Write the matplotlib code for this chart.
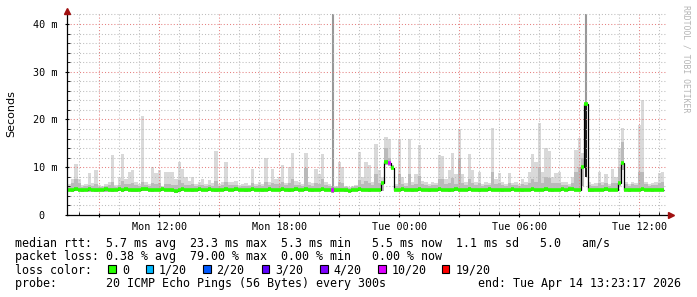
import numpy as np
import matplotlib
matplotlib.use("Agg")
import matplotlib.pyplot as plt
import matplotlib.dates as mdates
import matplotlib.ticker as mticker
from matplotlib.patches import Rectangle
from matplotlib.transforms import ScaledTranslation
from datetime import datetime, timedelta

# 10 minute bins, values in ms
bin_start = datetime(2026, 4, 13, 7, 25)
bin_minutes = 10
view_start = datetime(2026, 4, 13, 7, 23, 17)
view_end = datetime(2026, 4, 14, 13, 23, 17)

median_rtt = [
    5.2, 5.3, 5.4, 5.3, 5.2, 5.3, 5.4, 5.3, 5.2, 5.3,
    5.3, 5.4, 5.3, 5.2, 5.3, 5.5, 5.3, 5.4, 5.3, 5.3,
    5.2, 5.3, 5.4, 5.4, 5.3, 5.2, 5.3, 5.3, 5.4, 5.3,
    5.3, 5.2, 5.1, 5.3, 5.4, 5.3, 5.3, 5.2, 5.3, 5.4,
    5.3, 5.3, 5.4, 5.3, 5.2, 5.3, 5.3, 5.4, 5.3, 5.3,
    5.4, 5.3, 5.3, 5.2, 5.3, 5.4, 5.3, 5.3, 5.2, 5.3,
    5.4, 5.3, 5.3, 5.3, 5.4, 5.3, 5.2, 5.3, 5.4, 5.3,
    5.3, 5.4, 5.3, 5.2, 5.3, 5.3, 5.4, 5.3, 5.3, 5.3,
    5.2, 5.3, 5.3, 5.2, 5.1, 5.3, 5.3, 5.4, 5.3, 5.3,
    5.2, 5.3, 5.3, 5.3, 6.6, 11.0, 10.8, 9.8, 5.3, 5.3,
    5.4, 5.3, 5.3, 5.2, 5.3, 5.4, 5.3, 5.3, 5.2, 5.3,
    5.3, 5.4, 5.3, 5.3, 5.2, 5.3, 5.4, 5.3, 5.3, 5.3,
    5.4, 5.3, 5.3, 5.2, 5.3, 5.3, 5.4, 5.3, 5.3, 5.3,
    5.2, 5.3, 5.3, 5.4, 5.3, 5.3, 5.2, 5.3, 5.3, 5.4,
    5.3, 5.3, 5.3, 5.4, 5.3, 5.2, 5.3, 5.3, 5.4, 5.3,
    5.4, 5.4, 5.3, 5.3, 10.1, 23.3, 5.3, 5.2, 5.3, 5.3,
    5.3, 5.4, 5.3, 5.3, 5.3, 6.8, 10.8, 5.3, 5.2, 5.3,
    5.3, 5.3, 5.4, 5.3, 5.3, 5.2, 5.3, 5.3, 5.3, np.nan,
]

smoke_lo = [
    5.0, 4.9, 5.0, 5.0, 4.9, 5.0, 4.8, 5.0, 4.9, 5.0,
    5.0, 4.9, 5.0, 4.9, 5.0, 5.0, 4.9, 5.0, 5.0, 4.9,
    4.9, 5.0, 5.0, 5.1, 5.0, 4.9, 5.0, 5.0, 5.1, 5.0,
    5.0, 4.9, 4.7, 4.9, 5.0, 5.0, 5.0, 4.9, 5.0, 5.0,
    5.0, 5.0, 5.1, 5.0, 4.9, 5.0, 5.0, 5.0, 5.0, 5.0,
    5.0, 5.0, 5.0, 4.9, 5.0, 5.0, 5.0, 5.0, 4.9, 5.0,
    5.0, 5.0, 5.0, 5.0, 5.0, 5.0, 4.9, 5.0, 5.0, 5.0,
    5.0, 5.0, 5.0, 4.9, 5.0, 5.0, 5.0, 5.0, 5.0, 4.6,
    4.9, 5.0, 5.0, 4.9, 4.8, 5.0, 5.0, 5.0, 5.0, 5.0,
    4.9, 5.0, 5.0, 5.0, 5.0, 10.5, 10.3, 9.6, 5.0, 5.0,
    5.0, 5.0, 5.0, 4.9, 5.0, 5.0, 5.0, 5.0, 4.9, 5.0,
    5.0, 5.0, 5.0, 5.0, 4.9, 5.0, 5.0, 5.0, 5.0, 5.0,
    5.0, 5.0, 5.0, 4.9, 5.0, 5.0, 5.0, 5.0, 5.0, 5.0,
    4.9, 5.0, 5.0, 5.0, 5.0, 5.0, 4.9, 5.0, 5.0, 5.0,
    5.0, 5.0, 5.0, 5.0, 5.0, 4.9, 5.0, 5.0, 5.0, 5.0,
    5.0, 5.0, 5.0, 5.0, 6.0, 8.0, 4.8, 4.9, 5.0, 5.0,
    5.0, 5.0, 5.0, 5.0, 5.0, 6.0, 9.5, 5.0, 4.9, 5.0,
    5.0, 5.0, 5.0, 5.0, 5.0, 4.9, 5.0, 5.0, 5.0, np.nan,
]

smoke_mid = [
    6.0, 6.6, 7.5, 6.8, 5.9, 6.0, 6.3, 6.0, 6.4, 5.9,
    5.8, 6.0, 6.2, 7.0, 5.9, 6.3, 7.2, 6.4, 6.5, 6.8,
    6.2, 6.0, 7.0, 6.2, 6.0, 6.8, 6.4, 6.6, 5.8, 6.4,
    6.5, 6.3, 6.2, 7.4, 6.8, 6.3, 6.2, 6.4, 6.0, 6.2,
    6.3, 6.0, 6.2, 6.1, 7.2, 6.0, 6.3, 7.0, 6.2, 6.2,
    6.2, 5.9, 6.0, 6.1, 6.0, 6.6, 6.0, 6.3, 6.0, 7.0,
    6.2, 6.8, 6.5, 6.4, 7.0, 6.2, 6.8, 7.5, 6.3, 6.2,
    6.0, 9.8, 6.3, 6.0, 6.6, 6.4, 7.6, 6.2, 6.0, 6.0,
    5.8, 7.0, 6.8, 5.8, 5.6, 5.8, 6.0, 7.4, 6.4, 7.2,
    6.8, 6.2, 8.5, 6.8, 6.8, 14.0, 12.0, 10.5, 6.0, 8.5,
    6.4, 6.0, 8.6, 6.2, 6.5, 8.2, 6.4, 6.2, 6.0, 6.2,
    6.2, 7.5, 7.6, 6.4, 6.8, 7.8, 6.5, 12.0, 6.6, 6.2,
    7.5, 6.8, 6.2, 6.6, 6.0, 6.2, 6.2, 9.0, 6.4, 6.6,
    6.2, 6.0, 6.6, 6.2, 6.3, 6.0, 6.4, 6.2, 6.8, 7.6,
    7.0, 10.0, 6.8, 8.0, 7.8, 6.6, 6.8, 6.8, 6.2, 6.2,
    6.0, 6.8, 9.0, 10.0, 12.0, 8.0, 6.2, 6.0, 6.0, 6.6,
    6.2, 6.6, 6.0, 6.8, 6.6, 10.0, 15.3, 6.4, 6.0, 6.4,
    6.2, 9.0, 9.0, 6.4, 6.0, 6.2, 6.3, 6.8, 7.0, np.nan,
]

smoke_hi = [
    6.5, 7.5, 10.7, 7.6, 6.2, 6.4, 8.8, 6.8, 9.4, 6.2,
    6.0, 6.4, 7.0, 12.6, 6.3, 7.8, 12.8, 7.6, 9.0, 9.5,
    7.0, 6.5, 20.7, 7.0, 6.4, 10.0, 8.8, 9.5, 6.0, 9.0,
    9.0, 9.0, 7.5, 11.1, 9.7, 7.9, 7.2, 8.0, 6.4, 7.0,
    7.6, 6.5, 7.4, 6.8, 13.4, 6.5, 7.0, 11.1, 7.0, 7.0,
    7.2, 6.2, 6.4, 6.7, 6.3, 9.6, 6.5, 7.0, 6.4, 11.9,
    7.0, 9.6, 7.5, 8.0, 10.5, 6.8, 10.0, 13.0, 7.2, 7.0,
    6.5, 13.0, 7.0, 6.6, 9.6, 8.6, 12.8, 7.0, 6.5, 42.0,
    6.0, 11.0, 10.0, 6.0, 5.8, 6.0, 6.2, 13.1, 8.0, 11.0,
    10.5, 7.0, 14.9, 9.5, 8.0, 16.3, 16.0, 10.0, 6.5, 15.9,
    8.0, 6.8, 15.9, 7.0, 8.5, 14.6, 7.2, 7.0, 6.5, 7.0,
    6.8, 12.5, 12.4, 7.5, 9.5, 13.0, 8.5, 18.0, 8.6, 7.0,
    12.8, 9.5, 7.0, 9.0, 6.5, 7.0, 6.8, 18.2, 7.5, 8.7,
    7.0, 6.5, 8.7, 6.8, 7.0, 6.5, 7.5, 7.0, 9.0, 12.8,
    11.0, 19.3, 9.0, 14.0, 13.4, 8.0, 8.7, 9.0, 7.0, 7.0,
    6.5, 8.0, 13.6, 16.1, 13.0, 42.0, 7.0, 6.5, 6.8, 9.0,
    7.0, 8.5, 6.5, 9.6, 8.0, 14.0, 18.2, 7.0, 6.5, 7.0,
    6.8, 18.8, 24.1, 7.0, 6.5, 6.8, 7.0, 8.7, 9.0, np.nan,
]

# darkest smoke (nearly black) on the big Tuesday spike
dark_bins = [155]
dark_lo = [8.0]
dark_hi = [23.3]

# bins with packet loss, lost pings out of 20
loss_bins = [79, 96]
loss_pings = [10, 10]

loss_levels = [0, 1, 2, 3, 4, 10, 19]
loss_labels = ["0", "1/20", "2/20", "3/20", "4/20", "10/20", "19/20"]
loss_colors = ["#26ff00", "#00b8ff", "#0059ff", "#5e00ff", "#7e00ff", "#dd00ff", "#ff0000"]

legend_lines = [
    "median rtt:  5.7 ms avg  23.3 ms max  5.3 ms min   5.5 ms now  1.1 ms sd   5.0   am/s",
    "packet loss: 0.38 % avg  79.00 % max  0.00 % min   0.00 % now",
    "loss color:",
    "probe:       20 ICMP Echo Pings (56 Bytes) every 300s",
]
end_text = "end: Tue Apr 14 13:23:17 2026"

plt.rcParams['font.family'] = ['DejaVu Sans Mono']

W, H = 697, 297
fig = plt.figure(figsize=(W / 100, H / 100), dpi=100)
ax = fig.add_axes([67 / W, 82 / H, 600 / W, 201.7 / H])

n = len(median_rtt)
edges = mdates.date2num([bin_start + timedelta(minutes=bin_minutes * i) for i in range(n + 1)])
left = edges[:-1]
width = edges[1] - edges[0]
centers = left + width / 2

lo = np.array(smoke_lo)
mid = np.array(smoke_mid)
hi = np.array(smoke_hi)
med = np.array(median_rtt)
ok = ~np.isnan(med)
tall = np.nan_to_num(hi) > 30
normal = ok & ~tall

# smoke
ax.bar(left[normal], hi[normal] - lo[normal], width=width, bottom=lo[normal],
       align='edge', color='#d9d9d9', linewidth=0, zorder=1)
ax.bar(left[ok], mid[ok] - lo[ok], width=width, bottom=lo[ok],
       align='edge', color='#bababa', linewidth=0, zorder=1.2)
ax.vlines(centers[tall], lo[tall], hi[tall], color='#999999', lw=1.5, zorder=1.3)
for b, a, c in zip(dark_bins, dark_lo, dark_hi):
    ax.bar(left[b] + width * 0.1, c - a, width=width * 0.8, bottom=a,
           align='edge', color='#1e1e1e', linewidth=0, zorder=1.4)

# median line coloured by loss
pings = np.zeros(n, dtype=int)
pings[loss_bins] = loss_pings
seg_colors = []
for p in pings:
    k = max(i for i, lv in enumerate(loss_levels) if lv <= p)
    seg_colors.append(loss_colors[k])
last = np.where(ok)[0][-1]
ax.stairs(med[:last + 1], edges[:last + 2], baseline=None, color='black', lw=0.9, zorder=3)
ax.hlines(med[ok], left[ok], edges[1:][ok], colors=[c for c, o in zip(seg_colors, ok) if o],
          lw=2.6, zorder=4)

# axes
ax.set_xlim(mdates.date2num(view_start), mdates.date2num(view_end))
ax.set_ylim(0, 42.24)
ax.xaxis.set_major_locator(mdates.HourLocator(byhour=range(0, 24, 3)))
ax.xaxis.set_minor_locator(mdates.HourLocator())


def xfmt(v, pos):
    d = mdates.num2date(v)
    return d.strftime('%a %H:%M') if d.hour % 6 == 0 else ''


ax.xaxis.set_major_formatter(mticker.FuncFormatter(xfmt))
ax.yaxis.set_major_locator(mticker.MultipleLocator(10))
ax.yaxis.set_minor_locator(mticker.MultipleLocator(2))
ax.yaxis.set_major_formatter(mticker.FuncFormatter(lambda v, p: '0' if v == 0 else f'{v:.0f} m'))

ax.set_axisbelow(False)
ax.grid(which='minor', color='#bdbdbd', linestyle=(0, (1, 2)), lw=0.75, zorder=2.5)
ax.grid(which='major', color='#e58080', linestyle=(0, (1, 2)), lw=0.75, zorder=2.6)

for s in ['top', 'right']:
    ax.spines[s].set_visible(False)
for s in ['left', 'bottom']:
    ax.spines[s].set_linewidth(0.9)
    ax.spines[s].set_zorder(5)
ax.tick_params(which='major', direction='inout', length=3, width=0.8, labelsize=7.3, pad=3.5)
ax.tick_params(which='minor', direction='in', length=2, width=0.6)
ax.tick_params(axis='y', which='major', pad=5)

fig.canvas.draw()
for lab in ax.get_yticklabels():
    if lab.get_text() == '0':
        lab.set_transform(lab.get_transform() + ScaledTranslation(-13 / 100, 0, fig.dpi_scale_trans))

# axis arrows
ax.plot([0], [1.012], marker='^', ms=4.5, color='#a01010', mec='#a01010',
        transform=ax.transAxes, clip_on=False, zorder=6)
ax.plot([1.006], [0], marker='>', ms=4.5, color='#a01010', mec='#a01010',
        transform=ax.transAxes, clip_on=False, zorder=6)

fig.text(11 / W, 1 - 114 / H, 'Seconds', rotation=90, ha='center', va='center',
         fontsize=8, family='DejaVu Sans')
fig.text(686 / W, 1 - 5 / H, 'RRDTOOL / TOBI OETIKER', rotation=270, ha='center', va='top',
         fontsize=5.9, color='#b4b4b4')

# legend block
baselines = [246.5, 260.0, 273.7, 287.5]
for txt, yb in zip(legend_lines, baselines):
    fig.text(15.4 / W, 1 - yb / H, txt, ha='left', va='baseline', fontsize=8.35)
fig.text(681 / W, 1 - baselines[3] / H, end_text, ha='right', va='baseline', fontsize=8.35)

box_x = [108.3, 145.7, 203.3, 261.7, 320.0, 378.3, 441.7]
lab_x = [122.5, 159.0, 216.5, 275.0, 333.5, 392.0, 456.0]
for bx, tx, lab, col in zip(box_x, lab_x, loss_labels, loss_colors):
    fig.add_artist(Rectangle((bx / W, 1 - 273.2 / H), 7.5 / W, 8.2 / H, transform=fig.transFigure,
                             facecolor=col, edgecolor='black', lw=0.8))
    fig.text(tx / W, 1 - baselines[2] / H, lab, ha='left', va='baseline', fontsize=8.35)

fig.savefig('out.png', dpi=100)
